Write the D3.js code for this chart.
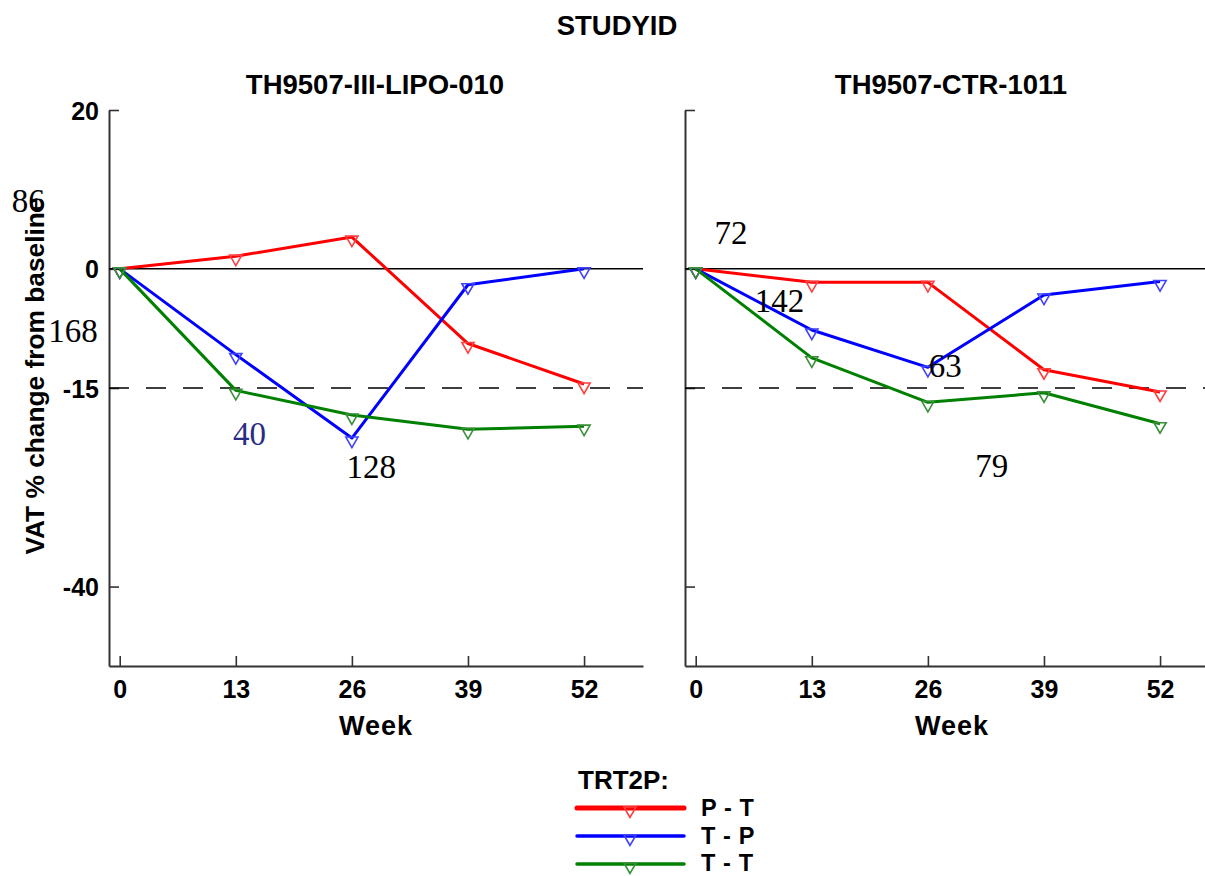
<!DOCTYPE html>
<html><head><meta charset="utf-8">
<script src="https://cdn.jsdelivr.net/npm/d3@7"></script>
<style>
html,body{margin:0;padding:0;background:#fff;}
svg{display:block;}
</style></head>
<body>
<svg id="chart" width="1205" height="876"></svg>
<script>
// ---- data ----
const weeks = [0, 13, 26, 39, 52];
const studies = ["TH9507-III-LIPO-010", "TH9507-CTR-1011"];
const groups = ["P - T", "T - P", "T - T"];
const groupColors = ["#ff0000", "#0000ff", "#008000"];
const markerColors = ["#ff4040", "#4040ff", "#3a8f3a"];
// values per study, per group (VAT % change from baseline)
const lipo010_PT = [0, 1.6, 4.0, -9.4, -14.5];
const lipo010_TP = [0, -10.8, -21.3, -2.0, 0];
const lipo010_TT = [0, -15.3, -18.4, -20.2, -19.8];
const ctr1011_PT = [0, -1.7, -1.7, -12.7, -15.5];
const ctr1011_TP = [0, -7.7, -12.4, -3.3, -1.6];
const ctr1011_TT = [0, -11.2, -16.8, -15.6, -19.5];
const yTicks = [20, 0, -15, -40];
const yTickLabels = ["20", "0", "-15", "-40"];
const xTicks = [0, 13, 26, 39, 52];
const xTickLabels = ["0", "13", "26", "39", "52"];
const refSolid = 0, refDashed = -15;
// N annotations: [studyIndex, text, week, value]
const annotations = [
  [0, "86", -12.1, 7.2],
  [0, "168", -8.0, -9.2],
  [0, "40", 12.7, -22.2],
  [0, "128", 25.4, -26.3],
  [1, "72", 2.1, 3.1],
  [1, "142", 6.6, -5.4],
  [1, "63", 26.1, -13.6],
  [1, "79", 31.3, -26.2]
];
const annoColors = {"40": "#2b2b85"};

const seriesByStudy = [
  [lipo010_PT, lipo010_TP, lipo010_TT],
  [ctr1011_PT, ctr1011_TP, ctr1011_TT]
];

// ---- layout ----
const svg = d3.select("#chart");
const panelLeft = [109, 685];
const panelWidth = 534;
const yTop = 110, yBottom = 666;
const sans = "'Liberation Sans', Arial, sans-serif";
const serif = "'Liberation Serif', 'Times New Roman', serif";

const y = d3.scaleLinear().domain([-50, 20]).range([yBottom, yTop]);

svg.append("text").attr("x", 617).attr("y", 35).attr("text-anchor", "middle")
  .attr("font-family", sans).attr("font-weight", "bold").attr("font-size", 27.5)
  .text("STUDYID");

svg.append("text")
  .attr("transform", "translate(44," + 376 + ") rotate(-90)")
  .attr("text-anchor", "middle")
  .attr("font-family", sans).attr("font-weight", "bold").attr("font-size", 26.3)
  .text("VAT % change from baseline");

const tri = d3.symbol().type(d3.symbolTriangle).size(64);

studies.forEach((study, si) => {
  const x0 = panelLeft[si];
  const x = d3.scaleLinear().domain([-1.2, 58.6]).range([x0, x0 + panelWidth]);
  const g = svg.append("g");

  g.append("text").attr("x", x0 + panelWidth / 2 - 1).attr("y", 94).attr("text-anchor", "middle")
    .attr("font-family", sans).attr("font-weight", "bold").attr("font-size", 27.5)
    .text(study);

  // y axis
  const ya = d3.axisLeft(y).tickValues(yTicks).tickSizeInner(-10).tickSizeOuter(0).tickPadding(10)
    .tickFormat((d, i) => si === 0 ? yTickLabels[i] : "");
  const yg = g.append("g").attr("transform", "translate(" + x0 + ",0)").call(ya);
  yg.select(".domain").attr("stroke", "#333").attr("stroke-width", 2);
  yg.selectAll(".tick line").attr("stroke", "#333").attr("stroke-width", 1.6);
  yg.selectAll(".tick text").attr("font-family", sans).attr("font-weight", "bold")
    .attr("font-size", 25).attr("fill", "#000").attr("dy", "0.36em");

  // x axis
  const xa = d3.axisBottom(x).tickValues(xTicks).tickSizeInner(-10).tickSizeOuter(0).tickPadding(14)
    .tickFormat((d, i) => xTickLabels[i]);
  const xg = g.append("g").attr("transform", "translate(0," + yBottom + ")").call(xa);
  xg.select(".domain").attr("stroke", "#333").attr("stroke-width", 2);
  xg.selectAll(".tick line").attr("stroke", "#333").attr("stroke-width", 1.6);
  xg.selectAll(".tick text").attr("font-family", sans).attr("font-weight", "bold")
    .attr("font-size", 25).attr("fill", "#000").attr("dy", "0.72em");

  g.append("text").attr("x", x0 + panelWidth / 2).attr("y", 735).attr("text-anchor", "middle")
    .attr("font-family", sans).attr("font-weight", "bold").attr("font-size", 27)
    .attr("letter-spacing", 1)
    .text("Week");

  // reference lines
  g.append("line").attr("x1", x0).attr("x2", x0 + panelWidth)
    .attr("y1", y(refSolid)).attr("y2", y(refSolid))
    .attr("stroke", "#000").attr("stroke-width", 1.5);
  g.append("line").attr("x1", x0).attr("x2", x0 + panelWidth)
    .attr("y1", y(refDashed)).attr("y2", y(refDashed))
    .attr("stroke", "#000").attr("stroke-width", 1.5).attr("stroke-dasharray", "20,17");

  // series
  const line = d3.line().x((d, i) => x(weeks[i])).y(d => y(d));
  seriesByStudy[si].forEach((vals, gi) => {
    g.append("path").datum(vals).attr("d", line)
      .attr("fill", "none").attr("stroke", groupColors[gi]).attr("stroke-width", 3)
      .attr("stroke-linejoin", "round");
    g.selectAll(null).data(vals).enter().append("path")
      .attr("d", tri)
      .attr("transform", (d, i) => "translate(" + x(weeks[i]) + "," + (y(d) + 2.5) + ") rotate(180)")
      .attr("fill", "none").attr("stroke", markerColors[gi]).attr("stroke-width", 1.6);
  });

  // annotations
  annotations.filter(a => a[0] === si).forEach(a => {
    g.append("text").attr("x", x(a[2])).attr("y", y(a[3]))
      .attr("font-family", serif).attr("font-size", 33)
      .attr("fill", annoColors[a[1]] || "#000")
      .text(a[1]);
  });
});

// legend
const lg = svg.append("g");
lg.append("text").attr("x", 578).attr("y", 789)
  .attr("font-family", sans).attr("font-weight", "bold").attr("font-size", 26)
  .text("TRT2P:");
const legendY = [808, 836, 864];
const legendTextY = [808, 835.5, 862.3];
const legendW = [5, 3.5, 3.5];
groups.forEach((name, gi) => {
  lg.append("line").attr("x1", 577).attr("x2", 684)
    .attr("y1", legendY[gi]).attr("y2", legendY[gi])
    .attr("stroke", groupColors[gi]).attr("stroke-width", legendW[gi]).attr("stroke-linecap", "round");
  lg.append("path").attr("d", tri)
    .attr("transform", "translate(630," + (legendY[gi] + 2.5) + ") rotate(180)")
    .attr("fill", "none").attr("stroke", markerColors[gi]).attr("stroke-width", 1.6);
  lg.append("text").attr("x", 701).attr("y", legendTextY[gi]).attr("dy", "0.35em")
    .attr("font-family", sans).attr("font-weight", "bold").attr("font-size", 23.5)
    .attr("letter-spacing", 0.6)
    .text(name);
});
</script>
</body></html>
